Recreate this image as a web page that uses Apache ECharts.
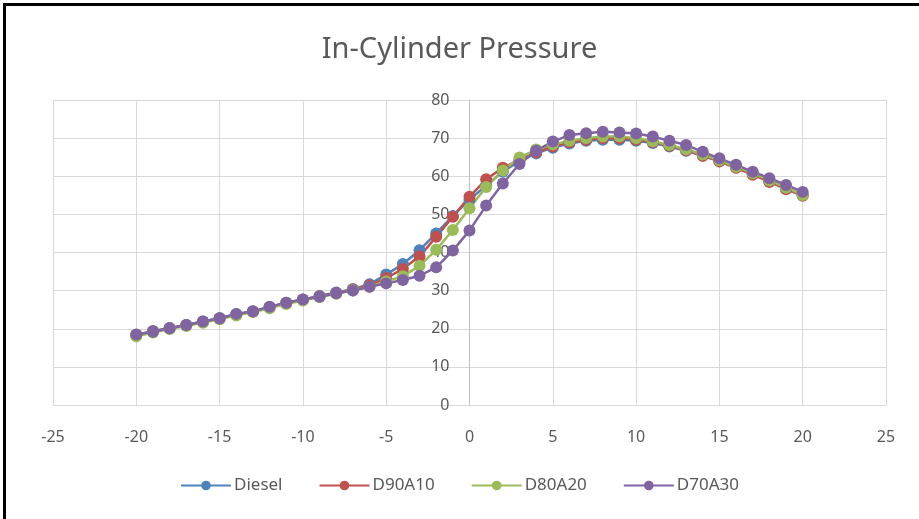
<!DOCTYPE html>
<html>
<head>
<meta charset="utf-8">
<script src="https://cdn.jsdelivr.net/npm/echarts@6/dist/echarts.min.js"></script>
<style>
  html, body { margin: 0; padding: 0; background: #fff; }
  #chart { width: 919px; height: 519px; }
  .frame {
    position: absolute; left: 3px; top: 3px; width: 916px; height: 516px;
    border-top: 3px solid #000; border-left: 3px solid #000;
    pointer-events: none; box-sizing: border-box;
  }
</style>
</head>
<body>
<div id="chart"></div>
<div class="frame"></div>
<script>
// crank angle (deg)
const angles = [];
for (let a = -20; a <= 20; a++) angles.push(a);

const diesel = [18.4, 19.4, 20.2, 21.0, 21.9, 22.8, 23.8, 24.6, 25.7, 26.8, 27.7, 28.6, 29.5, 30.4, 31.7, 34.2, 37.0, 40.6, 45.0, 49.6,
  53.8, 57.6, 61.2, 64.0, 66.0, 67.5, 68.6, 69.3, 69.6, 69.6, 69.3, 68.7, 67.8, 66.7, 65.4, 63.9, 62.3, 60.6, 58.7, 56.8, 55.0];
const d90a10 = [18.3, 19.3, 20.1, 20.9, 21.8, 22.7, 23.7, 24.5, 25.6, 26.7, 27.6, 28.5, 29.4, 30.3, 31.4, 33.3, 35.7, 39.0, 44.1, 49.4,
  54.6, 59.2, 62.2, 64.3, 66.3, 67.8, 68.9, 69.6, 70.0, 70.0, 69.6, 69.0, 68.0, 66.8, 65.4, 63.9, 62.2, 60.4, 58.5, 56.6, 54.9];
const d80a20 = [18.0, 19.0, 19.9, 20.7, 21.6, 22.5, 23.5, 24.4, 25.4, 26.5, 27.4, 28.3, 29.2, 30.1, 31.0, 32.4, 33.8, 36.5, 40.7, 45.9,
  51.6, 57.2, 61.5, 64.9, 67.0, 68.3, 69.3, 70.0, 70.4, 70.4, 70.0, 69.2, 68.2, 67.1, 65.7, 64.2, 62.5, 60.8, 58.9, 57.0, 55.1];
const d70a30 = [18.5, 19.2, 20.1, 21.0, 21.9, 22.7, 23.9, 24.5, 25.8, 26.8, 27.7, 28.4, 29.3, 30.0, 31.0, 31.9, 32.8, 33.9, 36.1, 40.5,
  45.8, 52.3, 58.1, 63.2, 66.7, 69.1, 70.8, 71.3, 71.7, 71.5, 71.2, 70.4, 69.3, 68.2, 66.4, 64.7, 63.0, 61.2, 59.5, 57.7, 55.9];

const seriesNames = ['Diesel', 'D90A10', 'D80A20', 'D70A30'];
const seriesColors = ['#4F81BD', '#C0504D', '#9BBB59', '#8064A2'];
const seriesValues = [diesel, d90a10, d80a20, d70a30];

const font = '"Noto Sans", sans-serif';

// grid box, the y axis sits at x = 0 (middle of -25..25)
const gridLeft = 53, gridRight = 33;
const plotWidth = 919 - gridLeft - gridRight;

const chart = echarts.init(document.getElementById('chart'));
chart.setOption({
  animation: false,
  title: {
    text: 'In-Cylinder Pressure',
    left: 'center',
    top: 30,
    textStyle: { fontFamily: font, fontSize: 29, fontWeight: 'normal', color: '#595959' }
  },
  legend: {
    bottom: 20,
    left: 'center',
    itemWidth: 50,
    itemHeight: 12,
    itemGap: 36,
    textStyle: { fontFamily: font, fontSize: 17, color: '#595959', padding: [0, 0, 0, -2] },
    data: seriesNames
  },
  grid: { left: gridLeft, right: gridRight, top: 100, bottom: 114 },
  xAxis: {
    type: 'value',
    min: -25,
    max: 25,
    interval: 5,
    axisLine: { show: true, lineStyle: { color: '#d9d9d9' } },
    axisTick: { show: false },
    splitLine: { show: true, lineStyle: { color: '#d9d9d9' } },
    axisLabel: { margin: 24, fontFamily: font, fontSize: 16, color: '#595959' }
  },
  yAxis: {
    type: 'value',
    min: 0,
    max: 80,
    interval: 10,
    position: 'left',
    offset: -plotWidth / 2,
    axisLine: { show: true, onZero: false, lineStyle: { color: '#bfbfbf' } },
    axisTick: { show: false },
    splitLine: { show: true, lineStyle: { color: '#d9d9d9' } },
    axisLabel: { margin: 20, fontFamily: font, fontSize: 16, color: '#595959' }
  },
  series: seriesNames.map((name, k) => ({
    name: name,
    type: 'line',
    symbol: 'circle',
    symbolSize: 12,
    color: seriesColors[k],
    lineStyle: { width: 2.5 },
    data: angles.map((a, i) => [a, seriesValues[k][i]])
  }))
});
</script>
</body>
</html>
